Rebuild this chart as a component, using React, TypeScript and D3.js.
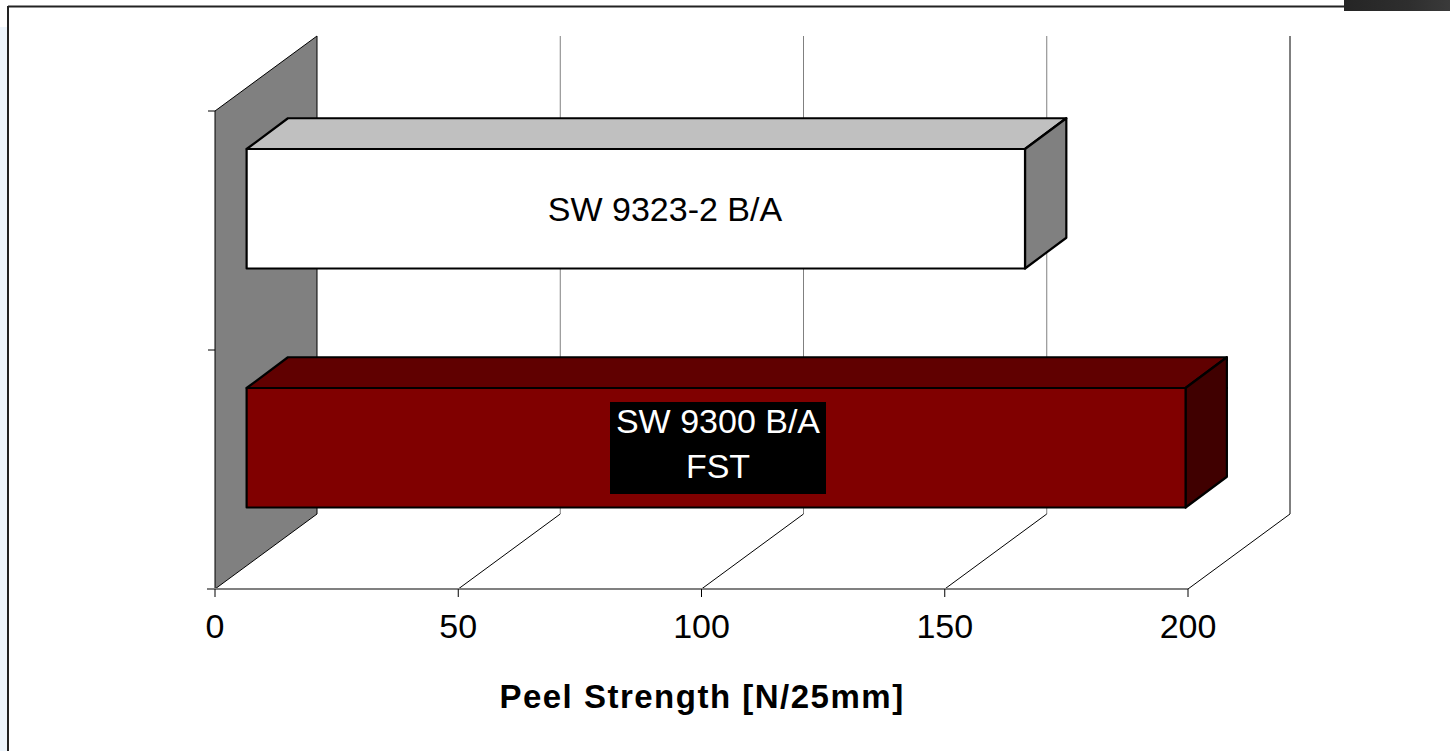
import React from "react";
import * as d3 from "d3";

const categories = ["SW 9323-2 B/A", "SW 9300 B/A FST"];
const values = [160, 193];
const ticks = [0, 50, 100, 150, 200];
const axisTitle = "Peel Strength [N/25mm]";

const W = 1450;
const H = 751;

// plot geometry (front plane)
const X0 = 215, X1 = 1188;
const YTOP = 111, YBOT = 589;
const DX = 102, DY = 75; // depth vector of the wall
const F0 = 0.31, F1 = 0.715; // bar depth fractions
const FY0 = 0.29, FY1 = 0.7; // vertical depth fractions

const x = d3.scaleLinear().domain([0, 200]).range([X0, X1]);
const y = d3.scaleBand<string>().domain(categories).range([YTOP, YBOT]).paddingInner(0.5).paddingOuter(0.25);

const barColors = [
  { front: "#FFFFFF", top: "#C0C0C0", side: "#808080" },
  { front: "#800000", top: "#600000", side: "#400000" },
];

const pts = (arr: [number, number][]) => arr.map((p) => p.join(",")).join(" ");

export default function App() {
  const font = "Arial, 'Liberation Sans', sans-serif";
  return (
    <svg width={W} height={H} style={{ position: "absolute", left: 0, top: 0, background: "#fff" }}>
      {/* left light strip */}
      <rect x={0} y={27} width={7} height={H - 27} fill="#EEF5FC" />
      {/* top-right dark image */}
      <defs>
        <linearGradient id="dk" x1="0" x2="1" y1="0" y2="0">
          <stop offset="0" stopColor="#252525" />
          <stop offset="0.6" stopColor="#2e2e2e" />
          <stop offset="1" stopColor="#3a3a3a" />
        </linearGradient>
      </defs>
      <rect x={1344} y={0} width={106} height={11} fill="url(#dk)" />
      {/* frame */}
      <line x1={8} y1={6.5} x2={1344} y2={6.5} stroke="#222" strokeWidth={2} />
      <line x1={8} y1={6} x2={8} y2={H} stroke="#222" strokeWidth={2} />

      {/* back wall grid lines */}
      {ticks.slice(1).map((t, i) => (
        <line key={"bg" + t} x1={x(t) + DX} y1={YTOP - DY} x2={x(t) + DX} y2={YBOT - DY}
          stroke={i === ticks.length - 2 ? "#000" : "#808080"} strokeWidth={1} />
      ))}
      {/* floor grid lines */}
      {ticks.slice(1).map((t) => (
        <line key={"fg" + t} x1={x(t) + DX} y1={YBOT - DY} x2={x(t)} y2={YBOT} stroke="#000" strokeWidth={1} />
      ))}
      {/* left wall */}
      <polygon points={pts([[X0, YTOP], [X0 + DX, YTOP - DY], [X0 + DX, YBOT - DY], [X0, YBOT]])}
        fill="#808080" stroke="#000" strokeWidth={1} />
      {/* category ticks */}
      {[YTOP, YTOP + y.step(), YBOT].map((yy, i) => (
        <line key={"ct" + i} x1={X0 - 7} y1={yy} x2={X0} y2={yy} stroke="#000" strokeWidth={1} />
      ))}

      {/* bars */}
      {categories.map((c, i) => {
        const col = barColors[i];
        const fx = F0 * DX, fy = FY0 * DY;
        const bx = F1 * DX, by = FY1 * DY;
        const yt = (y(c) as number), yb = yt + y.bandwidth();
        const xl = x(0), xr = x(values[i]);
        const front: [number, number][] = [[xl + fx, yt - fy], [xr + fx, yt - fy], [xr + fx, yb - fy], [xl + fx, yb - fy]];
        const top: [number, number][] = [[xl + fx, yt - fy], [xl + bx, yt - by], [xr + bx, yt - by], [xr + fx, yt - fy]];
        const side: [number, number][] = [[xr + fx, yt - fy], [xr + bx, yt - by], [xr + bx, yb - by], [xr + fx, yb - fy]];
        return (
          <g key={c} stroke="#000" strokeWidth={2.2} strokeLinejoin="round">
            <polygon points={pts(top)} fill={col.top} />
            <polygon points={pts(side)} fill={col.side} />
            <polygon points={pts(front)} fill={col.front} />
          </g>
        );
      })}

      {/* value axis */}
      <line x1={X0 - 8} y1={YBOT} x2={X1} y2={YBOT} stroke="#808080" strokeWidth={2} />
      {ticks.map((t) => (
        <g key={"t" + t}>
          <line x1={x(t)} y1={YBOT} x2={x(t)} y2={YBOT + 8} stroke="#000" strokeWidth={1} />
          <text x={x(t)} y={638} textAnchor="middle" fontFamily={font} fontSize={34} fill="#000">{t}</text>
        </g>
      ))}
      <text x={702} y={708} textAnchor="middle" fontFamily={font} fontSize={33} fontWeight="bold" letterSpacing={1.5} fill="#000">{axisTitle}</text>

      {/* data labels */}
      <text x={665} y={221} textAnchor="middle" fontFamily={font} fontSize={34} fill="#000">{categories[0]}</text>
      <rect x={610} y={402} width={216} height={92} fill="#000" />
      <text x={718} y={433} textAnchor="middle" fontFamily={font} fontSize={34} fill="#fff">SW 9300 B/A</text>
      <text x={718} y={478} textAnchor="middle" fontFamily={font} fontSize={34} fill="#fff">FST</text>
    </svg>
  );
}
